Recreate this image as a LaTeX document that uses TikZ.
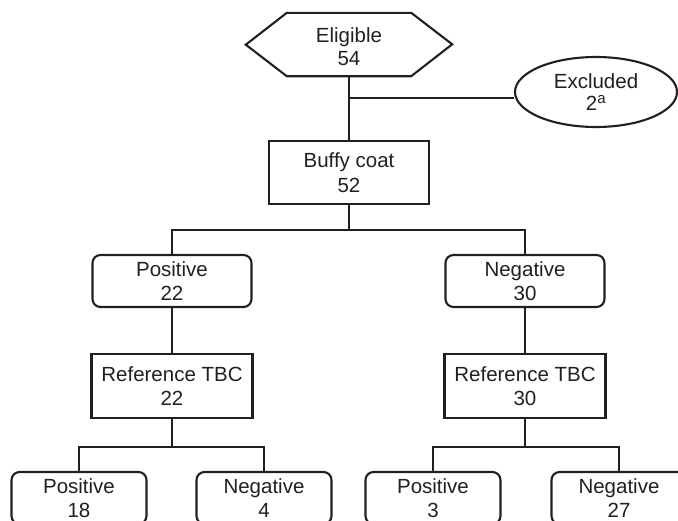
\documentclass[tikz,border=0pt]{standalone}
\usepackage{fontspec}
\setmainfont{Liberation Sans}
\usetikzlibrary{shapes.geometric}
\definecolor{ink}{RGB}{35,31,32}
\begin{document}
\begin{tikzpicture}[x=1pt,y=-1pt,
  every node/.style={text=ink, font=\fontsize{20.5}{24.5}\selectfont, align=center, inner sep=0pt},
  conn/.style={draw=ink, line width=2.1pt},
  sqbox/.style={draw=ink, line width=2.1pt, rectangle, minimum width=160, minimum height=63},
  rbox/.style={draw=ink, line width=2.1pt, rectangle, rounded corners=8, minimum width=159, minimum height=52},
  leafbox/.style={rbox, minimum width=135},
  tight/.style={font=\fontsize{20.5}{22.5}\selectfont}
]
\useasboundingbox (0,0) rectangle (678,520);
\clip (0,0) rectangle (678,520);

% top hexagon
\node[tight, minimum width=124, minimum height=63] (elig) at (349,44.5) {};
\node[tight] (eligt) at (349,46.5) {Eligible\\54};
\draw[conn, line join=miter] (elig.north west) -- (elig.north east) -- ++(41,31.5) -- (elig.south east) -- (elig.south west) -- ++(-41,-31.5) -- cycle;

% excluded
\node[tight, ellipse, draw=ink, line width=2.1pt, minimum width=162, minimum height=70] (excl) at (596,92) {Excluded\\2\textsuperscript{\fontsize{15}{15}\selectfont a}};

% buffy coat
\node[sqbox] (buffy) at (349,172.5) {Buffy coat\\52};
\draw[conn] (elig.south) -- (buffy.north);
\coordinate (j1) at (349,98);
\draw[conn] (j1) -- (j1 -| excl.west);

% first split
\coordinate (h1) at (349,230);
\draw[conn] (buffy.south) -- (h1);
\node[rbox] (pos) at (172,281) {Positive\\22};
\node[rbox] (neg) at (525,281) {Negative\\30};
\draw[conn] (pos.north) |- (h1) -| (neg.north);

% reference TBC
\node[sqbox, minimum width=161, minimum height=64] (refl) at (172,386) {Reference TBC\\22};
\node[sqbox, minimum width=161, minimum height=64] (refr) at (525,386) {Reference TBC\\30};
\draw[conn] (pos.south) -- (refl.north);
\draw[conn] (neg.south) -- (refr.north);

% second split
\coordinate (h2) at (172,447);
\coordinate (h3) at (525,447);
\draw[conn] (refl.south) -- (h2);
\draw[conn] (refr.south) -- (h3);
\node[leafbox] (ll) at (79,498) {Positive\\18};
\node[leafbox] (lr) at (264,498) {Negative\\4};
\node[leafbox] (rl) at (433,498) {Positive\\3};
\node[leafbox] (rr) at (619,498) {Negative\\27};
\draw[conn] (ll.north) |- (h2) -| (lr.north);
\draw[conn] (rl.north) |- (h3) -| (rr.north);
\end{tikzpicture}
\end{document}
